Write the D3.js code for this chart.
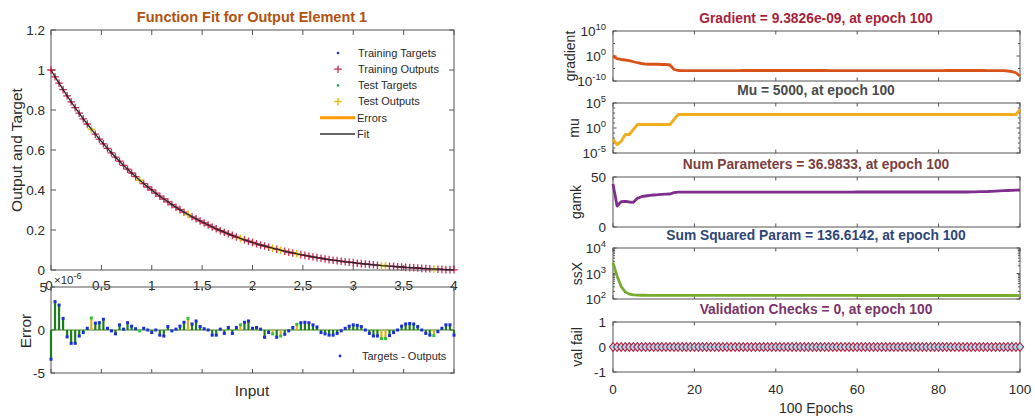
<!DOCTYPE html>
<html>
<head>
<meta charset="utf-8">
<script src="https://cdn.jsdelivr.net/npm/d3@7"></script>
<style>
  body { margin: 0; background: #fff; }
  svg text { font-family: "Liberation Sans", Arial, sans-serif; fill: #2b2b2b; }
</style>
</head>
<body>
<svg id="chart" width="1035" height="419"></svg>
<script>
// ---- left figure: fit of output element 1 ----
const inputs = d3.range(101).map(i => i / 25);   // 0 .. 4, step 0.04
const targets = [
  1.000,0.966,0.934,0.902,0.871,0.841,0.812,0.784,0.756,0.730,
  0.704,0.679,0.654,0.631,0.608,0.586,0.564,0.544,0.523,0.504,
  0.485,0.467,0.449,0.432,0.415,0.400,0.384,0.369,0.355,0.341,
  0.327,0.314,0.302,0.289,0.278,0.266,0.256,0.245,0.235,0.225,
  0.215,0.206,0.197,0.189,0.181,0.173,0.165,0.158,0.151,0.144,
  0.138,0.131,0.125,0.120,0.114,0.109,0.104,0.099,0.094,0.089,
  0.085,0.081,0.077,0.073,0.069,0.065,0.062,0.059,0.055,0.052,
  0.049,0.047,0.044,0.041,0.039,0.037,0.034,0.032,0.030,0.028,
  0.026,0.024,0.022,0.021,0.019,0.018,0.016,0.015,0.013,0.012,
  0.011,0.010,0.008,0.007,0.006,0.005,0.004,0.003,0.002,0.002,
  0.001
];
// targets - outputs, in units of 1e-6
const errors = [
  -3.4, 3.3, 2.9, 1.35,-0.8,-1.55,-1.55,-0.7,-0.3, 0.2,
   1.4, 0.8, 0.85,1.25, 0.2,-0.1,-0.45, 0.6, 0.1, 0.85,
   0.45,0.15,-0.1,0.2, 0.0,-0.3, 0.0,-0.6,-0.7, 0.4,
  -0.1, 0.1, 0.45,0.9, 1.35,0.7, 1.05,0.4, 0.15,0.0,
  -0.6,-0.6, 0.1,-0.4, 0.3,-0.4, 0.3, 0.6, 0.9, 1.05,
   0.2, 0.3, 0.1,-0.85,-0.3,-0.45,-0.85,-0.7,-0.5,-0.1,
   0.3, 0.65,0.85,0.9, 0.85,0.6, 0.35,-0.3,-0.45,-0.6,
  -0.6,-0.4,-0.1, 0.2, 0.45,0.6, 0.55,0.4, 0.0,-0.4,
  -0.7,-0.7,-1.0,-1.0,-0.65,-0.3,0.0, 0.45,0.7, 0.75,
   0.7, 0.4, 0.0,-0.4,-0.6,-0.65,-0.2,0.2, 0.6, 0.6,
  -0.6
];
const testIdx = [10, 22, 34, 47, 55, 57, 61, 82, 83, 95];
const fitTicksY = [0, 0.2, 0.4, 0.6, 0.8, 1, 1.2];
const inputTicks = [0, 0.5, 1, 1.5, 2, 2.5, 3, 3.5, 4];
const errTicks = [-5, 0, 5];
const fitLegend = ['Training Targets', 'Training Outputs', 'Test Targets', 'Test Outputs', 'Errors', 'Fit'];

// ---- right figure: training state ----
const epochs = d3.range(101);
const epochTicks = [0, 20, 40, 60, 80, 100];
const gradient = [
  1, 8e-2, 4e-2, 2.5e-2, 1.3e-2, 5e-3, 2e-3, 1e-3, 6e-4, 5e-4,
  5e-4, 5e-4, 4e-4, 4e-4, 2.5e-4, 4e-6, 1.6e-6, 1.3e-6, 1.3e-6, 1.3e-6,
  1.3e-6, 1.3e-6, 1.3e-6, 1.3e-6, 1.3e-6, 1.3e-6, 1.3e-6, 1.3e-6, 1.3e-6, 1.3e-6,
  1.4e-6, 1.5e-6, 1.6e-6, 1.6e-6, 1.6e-6, 1.6e-6, 1.6e-6, 1.6e-6, 1.6e-6, 1.6e-6,
  1.6e-6, 1.6e-6, 1.6e-6, 1.6e-6, 1.6e-6, 1.6e-6, 1.6e-6, 1.6e-6, 1.6e-6, 1.6e-6,
  1.6e-6, 1.6e-6, 1.6e-6, 1.5e-6, 1.5e-6, 1.5e-6, 1.5e-6, 1.5e-6, 1.4e-6, 1.4e-6,
  1.4e-6, 1.3e-6, 1.3e-6, 1.3e-6, 1.3e-6, 1.3e-6, 1.3e-6, 1.3e-6, 1.3e-6, 1.3e-6,
  1.3e-6, 1.3e-6, 1.3e-6, 1.3e-6, 1.3e-6, 1.3e-6, 1.3e-6, 1.3e-6, 1.4e-6, 1.4e-6,
  1.5e-6, 1.5e-6, 1.6e-6, 1.6e-6, 1.6e-6, 1.6e-6, 1.6e-6, 1.6e-6, 1.6e-6, 1.6e-6,
  1.6e-6, 1.6e-6, 1.5e-6, 1.5e-6, 1.4e-6, 1.4e-6, 1.3e-6, 1e-6, 6e-7, 2e-7,
  9.3826e-9
];
const mu = [
  5e-3, 5e-4, 2e-3, 5e-2, 5e-2, 5e-1, 5, 5, 5, 5,
  5, 5, 5, 5, 5, 50, 500, 500, 500, 500,
  500, 500, 500, 500, 500, 500, 500, 500, 500, 500,
  500, 500, 500, 500, 500, 500, 500, 500, 500, 500,
  500, 500, 500, 500, 500, 500, 500, 500, 500, 500,
  500, 500, 500, 500, 500, 500, 500, 500, 500, 500,
  500, 500, 500, 500, 500, 500, 500, 500, 500, 500,
  500, 500, 500, 500, 500, 500, 500, 500, 500, 500,
  500, 500, 500, 500, 500, 500, 500, 500, 500, 500,
  500, 500, 500, 500, 500, 500, 500, 500, 500, 500,
  5000
];
const gamk = [
  43, 21, 25.3, 25.7, 25, 24.7, 28.7, 30.3, 31, 31.7,
  32, 32.3, 32.7, 32.9, 33, 34.3, 34.8, 34.8, 34.8, 34.8,
  34.8, 34.8, 34.8, 34.8, 34.8, 34.8, 34.8, 34.8, 34.8, 34.8,
  34.8, 34.8, 34.8, 34.8, 34.8, 34.8, 34.8, 34.8, 34.8, 34.8,
  34.9, 34.9, 34.9, 34.9, 34.9, 34.9, 34.9, 34.9, 34.9, 34.9,
  34.9, 34.9, 34.9, 34.9, 34.9, 34.9, 34.9, 34.9, 34.9, 34.9,
  35, 35, 35, 35, 35, 35, 35, 35, 35, 35,
  35, 35, 35, 35, 35, 35, 35, 35, 35, 35,
  35, 35, 35, 35, 35, 35, 35, 35, 35.1, 35.2,
  35.3, 35.4, 35.5, 35.7, 35.9, 36.1, 36.3, 36.5, 36.7, 36.85,
  36.98
];
const ssX = [
  2600, 800, 310, 190, 155, 145, 141, 140, 140, 139,
  139, 139, 139, 139, 139, 138, 138, 138, 138, 138,
  138, 138, 138, 138, 138, 138, 138, 138, 138, 138,
  138, 138, 138, 138, 138, 138, 138, 138, 138, 138,
  138, 138, 138, 138, 138, 138, 138, 138, 138, 138,
  138, 138, 138, 138, 138, 138, 138, 138, 138, 138,
  137, 137, 137, 137, 137, 137, 137, 137, 137, 137,
  137, 137, 137, 137, 137, 137, 137, 137, 137, 137,
  137, 137, 137, 137, 137, 137, 137, 137, 137, 137,
  137, 137, 137, 137, 137, 137, 137, 137, 137, 137,
  136.6
];
const valFail = [
  0,0,0,0,0,0,0,0,0,0, 0,0,0,0,0,0,0,0,0,0,
  0,0,0,0,0,0,0,0,0,0, 0,0,0,0,0,0,0,0,0,0,
  0,0,0,0,0,0,0,0,0,0, 0,0,0,0,0,0,0,0,0,0,
  0,0,0,0,0,0,0,0,0,0, 0,0,0,0,0,0,0,0,0,0,
  0,0,0,0,0,0,0,0,0,0, 0,0,0,0,0,0,0,0,0,0,
  0
];

const svg = d3.select('#chart');
const axisColor = '#555';
const plusPath = 'M-3.8,0H3.8M0,-3.8V3.8';

// frame + inward ticks on all four sides
function frame(x, y, xt, yt, len, minorY) {
  const g = svg.append('g');
  const [x0, x1] = x.range(), [y0, y1] = y.range();
  g.append('rect')
    .attr('x', x0).attr('y', y1)
    .attr('width', x1 - x0).attr('height', y0 - y1)
    .attr('fill', 'none').attr('stroke', axisColor).attr('stroke-width', 1);
  const tk = [];
  xt.forEach(v => {
    tk.push([x(v), y0, x(v), y0 - len]);
    tk.push([x(v), y1, x(v), y1 + len]);
  });
  yt.forEach(v => {
    tk.push([x0, y(v), x0 + len, y(v)]);
    tk.push([x1, y(v), x1 - len, y(v)]);
  });
  (minorY || []).forEach(v => {
    tk.push([x0, y(v), x0 + len * 0.6, y(v)]);
    tk.push([x1, y(v), x1 - len * 0.6, y(v)]);
  });
  g.selectAll('line').data(tk).join('line')
    .attr('x1', d => d[0]).attr('y1', d => d[1])
    .attr('x2', d => d[2]).attr('y2', d => d[3])
    .attr('stroke', axisColor).attr('stroke-width', 1);
  return g;
}

function yLabel(text, cx, cy, size) {
  svg.append('text')
    .attr('transform', `translate(${cx},${cy}) rotate(-90)`)
    .attr('text-anchor', 'middle').attr('dominant-baseline', 'central')
    .attr('font-size', size).text(text);
}

// ================= LEFT: function fit =================
const xIn = d3.scaleLinear().domain([0, 4]).range([51, 454]);
const yFit = d3.scaleLinear().domain([0, 1.2]).range([270, 30]);
const yErr = d3.scaleLinear().domain([-5, 5]).range([373, 287]);

const isTest = new Set(testIdx);
const pts = inputs.map((x, i) => ({
  x, t: targets[i], o: targets[i] - errors[i] * 1e-6, e: errors[i], test: isTest.has(i)
}));

frame(xIn, yFit, inputTicks, fitTicksY, 5);

svg.append('text').attr('x', 252).attr('y', 22).attr('text-anchor', 'middle')
  .attr('font-size', 14.5).attr('font-weight', 'bold').style('fill', '#b2520f')
  .text('Function Fit for Output Element 1');

svg.append('g').selectAll('text').data(fitTicksY).join('text')
  .attr('x', 45).attr('y', d => yFit(d)).attr('dy', '0.35em')
  .attr('text-anchor', 'end').attr('font-size', 13.5).text(d => d);
svg.append('g').selectAll('text').data(inputTicks).join('text')
  .attr('x', d => xIn(d) - (d === 0 ? 2 : 0)).attr('y', 290)
  .attr('text-anchor', 'middle').attr('font-size', 13.5).text(d => d);
yLabel('Output and Target', 16, 150, 15.5);

// markers
const mk = svg.append('g');
mk.selectAll('circle.tt').data(pts.filter(p => !p.test)).join('circle')
  .attr('cx', p => xIn(p.x)).attr('cy', p => yFit(p.t)).attr('r', 1.2).attr('fill', '#1b2fd6');
mk.selectAll('path.to').data(pts.filter(p => !p.test)).join('path')
  .attr('transform', p => `translate(${xIn(p.x)},${yFit(p.o)})`)
  .attr('d', plusPath).attr('stroke', '#d12a4e').attr('stroke-width', 1.3).attr('fill', 'none');
mk.selectAll('circle.st').data(pts.filter(p => p.test)).join('circle')
  .attr('cx', p => xIn(p.x)).attr('cy', p => yFit(p.t)).attr('r', 1.2).attr('fill', '#21b04a');
mk.selectAll('path.so').data(pts.filter(p => p.test)).join('path')
  .attr('transform', p => `translate(${xIn(p.x)},${yFit(p.o)})`)
  .attr('d', plusPath).attr('stroke', '#e2bf12').attr('stroke-width', 1.5).attr('fill', 'none');

svg.append('path').datum(pts)
  .attr('d', d3.line().x(p => xIn(p.x)).y(p => yFit(p.o)))
  .attr('fill', 'none').attr('stroke', '#262626').attr('stroke-width', 1.3);

// legend
const lg = svg.append('g').selectAll('g').data(fitLegend).join('g')
  .attr('transform', (d, i) => `translate(338,${53 + i * 16.2})`);
lg.append('text').attr('x', 20).attr('dy', '0.35em').attr('font-size', 11).text(d => d);
lg.each(function (d, i) {
  const s = d3.select(this);
  if (i === 0) s.append('circle').attr('r', 1.3).attr('fill', '#1b2fd6');
  if (i === 2) s.append('circle').attr('r', 1.3).attr('fill', '#21b04a');
  if (i === 1) s.append('path').attr('d', plusPath).attr('stroke', '#d12a4e').attr('stroke-width', 1.3);
  if (i === 3) s.append('path').attr('d', plusPath).attr('stroke', '#e2bf12').attr('stroke-width', 1.5);
  if (i >= 4) {
    s.select('text').attr('x', 19);
    s.append('line').attr('x1', -18).attr('x2', 17)
      .attr('stroke', i === 4 ? '#ff9a00' : '#333').attr('stroke-width', i === 4 ? 3 : 1.6);
  }
});

// error subplot
frame(xIn, yErr, inputTicks, errTicks, 4);
svg.append('line').attr('x1', xIn(0)).attr('x2', xIn(4)).attr('y1', yErr(0)).attr('y2', yErr(0))
  .attr('stroke', '#3f7f1e').attr('stroke-width', 1.2);
const st = svg.append('g');
st.selectAll('line').data(pts).join('line')
  .attr('x1', p => xIn(p.x)).attr('x2', p => xIn(p.x))
  .attr('y1', yErr(0)).attr('y2', p => yErr(p.e))
  .attr('stroke', p => p.test ? '#d9b21a' : '#1c7d1c').attr('stroke-width', 2.2);
st.selectAll('rect').data(pts).join('rect')
  .attr('x', p => xIn(p.x) - 1.5).attr('y', p => yErr(p.e) - 1.5)
  .attr('width', 3).attr('height', 3)
  .attr('fill', p => p.test ? '#34c03a' : '#1b2fd6');

svg.append('g').selectAll('text').data(errTicks).join('text')
  .attr('x', d => d === 5 ? 47 : 45).attr('y', d => yErr(d)).attr('dy', '0.35em')
  .attr('text-anchor', 'end').attr('font-size', 13.5).text(d => d);
const ex = svg.append('text').attr('x', 54).attr('y', 284).attr('font-size', 11.5);
ex.append('tspan').text('\u00d710');
ex.append('tspan').attr('dy', -5).attr('font-size', 9).text('-6');
yLabel('Error', 25, 331, 15.5);
svg.append('text').attr('x', 252).attr('y', 396).attr('text-anchor', 'middle')
  .attr('font-size', 15.5).text('Input');
svg.append('circle').attr('cx', 340).attr('cy', 356).attr('r', 1.4).attr('fill', '#1b2fd6');
svg.append('text').attr('x', 362).attr('y', 356).attr('dy', '0.35em')
  .attr('font-size', 11).text('Targets - Outputs');

// ================= RIGHT: training state =================
const xEp = d3.scaleLinear().domain([0, 100]).range([613, 1020]);

function supLabel(sel, exp) {
  sel.append('tspan').text('10');
  sel.append('tspan').attr('dy', -6).attr('font-size', 9.5).text(exp);
}

const panels = [
  { top: 31, bot: 81, log: true, dom: [1e-10, 1e10], ticks: [1e-10, 1, 1e10], exps: ['-10', '0', '10'],
    minor: [1e-5, 1e5], vals: gradient, color: '#d95319', label: 'gradient', lx: 570,
    title: 'Gradient = 9.3826e-09, at epoch 100', tc: '#a81f3c' },
  { top: 103, bot: 153, log: true, dom: [1e-5, 1e5], ticks: [1e-5, 1, 1e5], exps: ['-5', '0', '5'],
    minor: [1e-4, 1e-3, 1e-2, 1e-1, 10, 100, 1e3, 1e4], vals: mu, color: '#f0ad1e', label: 'mu', lx: 574,
    title: 'Mu = 5000, at epoch 100', tc: '#4a4a4a' },
  { top: 177, bot: 227, log: false, dom: [0, 50], ticks: [0, 50],
    vals: gamk, color: '#7e2f8e', label: 'gamk', lx: 576,
    title: 'Num Parameters = 36.9833, at epoch 100', tc: '#7b3f3f' },
  { top: 248, bot: 299, log: true, dom: [100, 1e4], ticks: [100, 1e3, 1e4], exps: ['2', '3', '4'],
    minor: [200, 300, 400, 500, 600, 700, 800, 900, 2e3, 3e3, 4e3, 5e3, 6e3, 7e3, 8e3, 9e3],
    vals: ssX, color: '#77ac30', label: 'ssX', lx: 577,
    title: 'Sum Squared Param = 136.6142, at epoch 100', tc: '#2f4777' },
  { top: 322, bot: 372, log: false, dom: [-1, 1], ticks: [-1, 0, 1],
    vals: valFail, color: null, label: 'val fail', lx: 577,
    title: 'Validation Checks = 0, at epoch 100', tc: '#7a3468' }
];

panels.forEach(p => {
  const y = (p.log ? d3.scaleLog() : d3.scaleLinear()).domain(p.dom).range([p.bot, p.top]);
  frame(xEp, y, epochTicks, p.ticks, 3.5, p.minor);

  svg.append('text').attr('x', 816).attr('y', p.top - 8).attr('text-anchor', 'middle')
    .attr('font-size', 13.8).attr('font-weight', 'bold').style('fill', p.tc).text(p.title);

  const tl = svg.append('g').selectAll('text').data(p.ticks).join('text')
    .attr('x', 606).attr('y', d => y(d)).attr('dy', '0.4em')
    .attr('text-anchor', 'end').attr('font-size', 13.5);
  if (p.log) tl.each(function (d, i) { supLabel(d3.select(this), p.exps[i]); });
  else tl.text(d => d);

  yLabel(p.label, p.lx, (p.top + p.bot) / 2, 14);

  if (p.color) {
    svg.append('path').datum(epochs)
      .attr('d', d3.line().x(e => xEp(e)).y(e => y(p.vals[e])))
      .attr('fill', 'none').attr('stroke', p.color).attr('stroke-width', 2.8)
      .attr('stroke-linejoin', 'round');
  } else {
    svg.append('g').selectAll('path').data(epochs).join('path')
      .attr('transform', e => `translate(${xEp(e)},${y(p.vals[e])})`)
      .attr('d', 'M0,-4.3L3.6,0L0,4.3L-3.6,0Z')
      .attr('fill', '#a9dcee').attr('stroke', '#b42040').attr('stroke-width', 1.1);
  }
});

svg.append('g').selectAll('text').data(epochTicks).join('text')
  .attr('x', d => xEp(d)).attr('y', 394).attr('text-anchor', 'middle')
  .attr('font-size', 13.5).text(d => d);
svg.append('text').attr('x', 816).attr('y', 413).attr('text-anchor', 'middle')
  .attr('font-size', 14).text('100 Epochs');
</script>
</body>
</html>
